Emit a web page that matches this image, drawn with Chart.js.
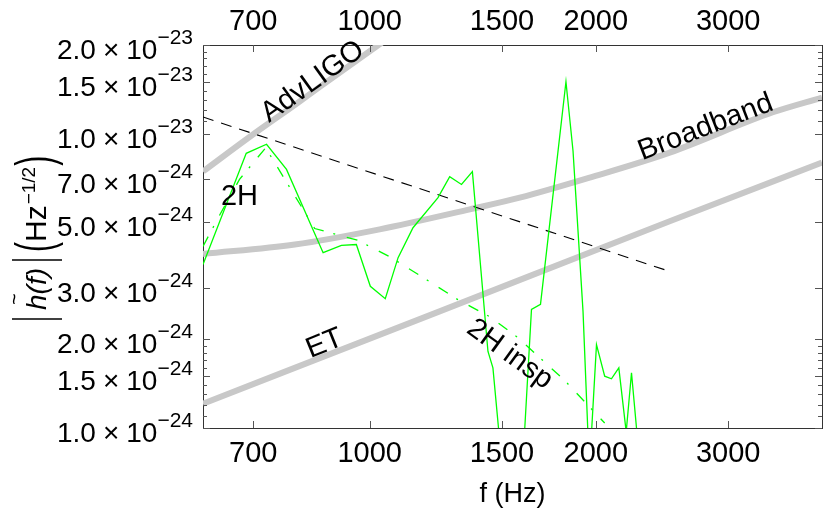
<!DOCTYPE html>
<html>
<head>
<meta charset="utf-8">
<script src="https://cdn.jsdelivr.net/npm/chart.js@4.4.1/dist/chart.umd.min.js"></script>
<style>
  body { margin: 0; background: #fff; }
  #wrap { width: 825px; height: 513px; }
</style>
</head>
<body>
<div id="wrap"><canvas id="chart" width="825" height="513"></canvas></div>
<script>
// frequencies (Hz) and |h(f)| values
const solidFreq = [600, 685, 729, 775, 867, 917, 960, 1002, 1049, 1091, 1142, 1233, 1278, 1325, 1370, 1437, 1459, 1502, 1597, 1642, 1688, 1825, 1865, 1923, 1961, 2004, 2055, 2098, 2146, 2195, 2231, 2292];
const solidH = [3.59e-24, 8.57e-24, 9.20e-24, 7.56e-24, 3.94e-24, 4.17e-24, 4.20e-24, 3.03e-24, 2.75e-24, 3.79e-24, 4.79e-24, 6.06e-24, 7.14e-24, 6.72e-24, 7.43e-24, 1.82e-24, 1.60e-24, 0.72e-24, 0.72e-24, 2.53e-24, 2.63e-24, 15.0e-24, 8.73e-24, 2.49e-24, 0.72e-24, 1.92e-24, 1.50e-24, 1.47e-24, 1.60e-24, 0.97e-24, 1.54e-24, 0.72e-24];

// 2H inspiral (dash-dot)
const inspFreq = [600, 632, 671, 727, 845, 964, 1063, 1195, 1310, 1444, 1574, 1818, 1993, 2055];
const inspH = [4.14e-24, 5.31e-24, 6.99e-24, 8.95e-24, 4.76e-24, 4.34e-24, 3.82e-24, 3.17e-24, 2.73e-24, 2.39e-24, 2.03e-24, 1.45e-24, 1.13e-24, 1.04e-24];

// black dashed reference line
const refFreq = [600, 2486];
const refH = [11.39e-24, 3.43e-24];

// detector noise curves (grey)
const advFreq = [600, 700, 800, 900, 1000, 1100];
const advH = [7.44e-24, 9.95e-24, 12.66e-24, 15.73e-24, 19.05e-24, 22.6e-24];
const bbFreq = [600, 795, 1031, 1359, 1584, 1963, 2508, 3441, 4000];
const bbH = [3.90e-24, 4.20e-24, 4.73e-24, 5.53e-24, 6.06e-24, 7.09e-24, 8.62e-24, 11.82e-24, 13.26e-24];
const etFreq = [600, 1239, 2508, 4000];
const etH = [1.21e-24, 2.49e-24, 5.04e-24, 7.97e-24];

// axes
const xTicks = [700, 1000, 1500, 2000, 3000];
const yTicks = [1e-24, 1.5e-24, 2e-24, 3e-24, 5e-24, 7e-24, 1e-23, 1.5e-23, 2e-23];
const yMinor = [1.1e-24, 1.2e-24, 1.3e-24, 1.4e-24, 1.6e-24, 1.7e-24, 1.8e-24, 1.9e-24,
                1.1e-23, 1.2e-23, 1.3e-23, 1.4e-23, 1.6e-23, 1.7e-23, 1.8e-23, 1.9e-23];

const FONT = '"Liberation Sans", Arial, sans-serif';
const GREY = '#c8c8c8';

function pts(xs, ys) {
    return xs.map((x, i) => ({ x: x, y: ys[i] }));
}

// tick marks inside the frame + y labels with superscripts
const frameTicks = {
    id: 'frameTicks',
    afterDraw(chart) {
        const { ctx, chartArea: a } = chart;
        const sx = chart.scales.x, sy = chart.scales.y;
        ctx.save();
        ctx.strokeStyle = '#555';
        ctx.lineWidth = 1;
        ctx.beginPath();
        xTicks.forEach(t => {
            const p = Math.round(sx.getPixelForValue(t)) + 0.5;
            ctx.moveTo(p, a.bottom); ctx.lineTo(p, a.bottom - 7);
            ctx.moveTo(p, a.top); ctx.lineTo(p, a.top + 7);
        });
        yTicks.forEach(t => {
            const p = Math.round(sy.getPixelForValue(t)) + 0.5;
            ctx.moveTo(a.left, p); ctx.lineTo(a.left + 7, p);
            ctx.moveTo(a.right, p); ctx.lineTo(a.right - 7, p);
        });
        yMinor.forEach(t => {
            const p = Math.round(sy.getPixelForValue(t)) + 0.5;
            ctx.moveTo(a.left, p); ctx.lineTo(a.left + 4, p);
            ctx.moveTo(a.right, p); ctx.lineTo(a.right - 4, p);
        });
        ctx.stroke();

        // y tick labels: m.m×10^e
        ctx.fillStyle = '#000';
        ctx.textBaseline = 'alphabetic';
        ctx.textAlign = 'left';
        yTicks.forEach(t => {
            const e = Math.floor(Math.log10(t) + 1e-9);
            const mant = (t / Math.pow(10, e)).toFixed(1);
            const exp = '\u2212' + Math.abs(e);
            const py = sy.getPixelForValue(t);
            ctx.font = '28px ' + FONT;
            const wm = ctx.measureText(mant).width;
            const wx = ctx.measureText('\u00d7').width;
            const wt = ctx.measureText('10').width;
            ctx.font = '21px ' + FONT;
            const we = ctx.measureText(exp).width;
            const gap = 7;
            let x0 = a.left - 10 - (wm + gap + wx + gap + wt + we);
            ctx.font = '28px ' + FONT;
            ctx.fillText(mant, x0, py + 14); x0 += wm + gap;
            ctx.fillText('\u00d7', x0, py + 14); x0 += wx + gap;
            ctx.fillText('10', x0, py + 14); x0 += wt;
            ctx.font = '21px ' + FONT;
            ctx.fillText(exp, x0, py - 1);
        });
        ctx.restore();
    }
};

// rotated y-axis title  |h~(f)| (Hz^-1/2)
const yTitle = {
    id: 'yTitle',
    afterDraw(chart) {
        const ctx = chart.ctx;
        ctx.save();
        ctx.translate(46, 322);
        ctx.rotate(-Math.PI / 2);
        ctx.fillStyle = '#000';
        ctx.strokeStyle = '#000';
        ctx.lineWidth = 1.5;
        ctx.textBaseline = 'alphabetic';
        ctx.textAlign = 'left';
        const bar = u => { ctx.beginPath(); ctx.moveTo(u, -34); ctx.lineTo(u, 16); ctx.stroke(); };
        // tall thin delimiter: stretch across the text direction
        const paren = (ch, u) => {
            ctx.save();
            ctx.font = '30px ' + FONT;
            ctx.translate(u, 16);
            ctx.scale(1, 1.75);
            ctx.fillText(ch, 0, -6);
            ctx.restore();
            ctx.font = '30px ' + FONT;
            return ctx.measureText(ch).width;
        };
        let u = 3;
        bar(u);
        u += 9;
        ctx.font = 'italic 28px ' + FONT;
        const wh = ctx.measureText('h').width;
        ctx.fillText('h', u, 0);
        ctx.save();
        ctx.font = '20px ' + FONT;
        ctx.textAlign = 'center';
        ctx.textBaseline = 'middle';
        ctx.fillText('~', u + wh / 2 + 3, -31);
        ctx.restore();
        u += wh;
        ctx.fillText('(f)', u, 0);
        u += ctx.measureText('(f)').width + 8;
        bar(u);
        u += 8;
        u += paren('(', u);
        ctx.font = '30px ' + FONT;
        ctx.fillText('Hz', u, 0);
        u += ctx.measureText('Hz').width + 1;
        ctx.font = '19px ' + FONT;
        ctx.fillText('\u22121/2', u, -11);
        u += ctx.measureText('\u22121/2').width + 1;
        paren(')', u);
        ctx.restore();
    }
};

// curve labels placed at data coordinates
const curveLabels = {
    id: 'curveLabels',
    afterDatasetsDraw(chart) {
        const ctx = chart.ctx;
        const sx = chart.scales.x, sy = chart.scales.y;
        const items = [
            { t: 'AdvLIGO', f: 840, h: 15.0e-24, a: -35.7 },
            { t: 'Broadband', f: 2800, h: 10.5e-24, a: -21 },
            { t: 'ET', f: 871, h: 1.93e-24, a: -22 },
            { t: '2H insp', f: 1536, h: 1.78e-24, a: 36 },
            { t: '2H', f: 671, h: 6.07e-24, a: 0 }
        ];
        ctx.save();
        ctx.fillStyle = '#000';
        ctx.font = '29px ' + FONT;
        ctx.textAlign = 'center';
        ctx.textBaseline = 'middle';
        items.forEach(it => {
            ctx.save();
            ctx.translate(sx.getPixelForValue(it.f), sy.getPixelForValue(it.h));
            ctx.rotate(it.a * Math.PI / 180);
            ctx.fillText(it.t, 0, 0);
            ctx.restore();
        });
        ctx.restore();
    }
};

const logX = (pos, h, pad) => ({
    type: 'logarithmic',
    position: pos,
    min: 600,
    max: 4000,
    afterBuildTicks: s => { s.ticks = xTicks.map(v => ({ value: v })); },
    afterFit: s => { s.height = h; },
    ticks: {
        autoSkip: false, maxRotation: 0, minRotation: 0, padding: pad, color: '#000',
        font: { family: FONT, size: 29 },
        callback: v => String(v)
    },
    grid: { display: true, drawOnChartArea: false, drawTicks: false },
    border: { display: true, color: '#333', width: 1 }
});

const logY = (pos, w) => ({
    type: 'logarithmic',
    position: pos,
    min: 1e-24,
    max: 2e-23,
    afterBuildTicks: s => { s.ticks = yTicks.map(v => ({ value: v })); },
    afterFit: s => { s.width = w; },
    ticks: { display: false },
    grid: { display: true, drawOnChartArea: false, drawTicks: false },
    border: { display: true, color: '#333', width: 1 }
});

const xBottom = logX('bottom', 85, 9);
xBottom.title = {
    display: true, text: 'f (Hz)', color: '#000',
    font: { family: FONT, size: 27 }, padding: { top: 0, bottom: 2 }
};

new Chart(document.getElementById('chart'), {
    type: 'line',
    data: {
        datasets: [
            { data: pts(solidFreq, solidH), borderColor: '#00ff00', borderWidth: 1.3 },
            { data: pts(inspFreq, inspH), borderColor: '#00ff00', borderWidth: 1.3, borderDash: [11, 10, 2, 12] },
            { data: pts(refFreq, refH), borderColor: '#000', borderWidth: 1.1, borderDash: [11, 8] },
            { data: pts(advFreq, advH), borderColor: GREY, borderWidth: 6, cubicInterpolationMode: 'monotone' },
            { data: pts(bbFreq, bbH), borderColor: GREY, borderWidth: 6, cubicInterpolationMode: 'monotone' },
            { data: pts(etFreq, etH), borderColor: GREY, borderWidth: 6, cubicInterpolationMode: 'monotone' }
        ].map(d => Object.assign({ pointRadius: 0, fill: false, clip: 0 }, d))
    },
    options: {
        responsive: false,
        animation: false,
        layout: { padding: 0 },
        plugins: { legend: { display: false }, tooltip: { enabled: false } },
        scales: {
            x: xBottom,
            x2: logX('top', 45, 6),
            y: logY('left', 203),
            y2: logY('right', 3)
        }
    },
    plugins: [curveLabels, frameTicks, yTitle]
});
</script>
</body>
</html>
